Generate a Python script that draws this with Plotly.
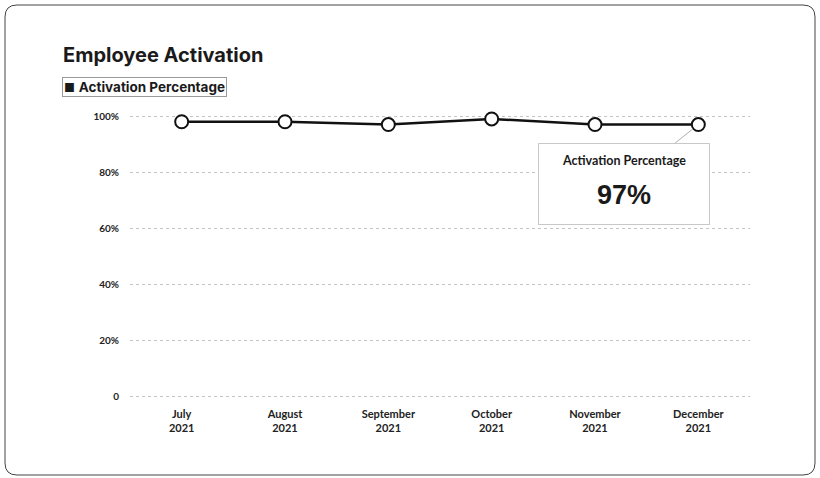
import plotly.graph_objects as go

# Monthly activation share (percent of employees)
months = ["July<br>2021", "August<br>2021", "September<br>2021",
          "October<br>2021", "November<br>2021", "December<br>2021"]
activation = [98, 98, 97, 99, 97, 97]
series_name = "Activation Percentage"
y_ticks = [0, 20, 40, 60, 80, 100]
y_tick_text = ["0", "20%", "40%", "60%", "80%", "100%"]

W, H = 820, 478
ML, MR, MT, MB = 130, 70, 115, 80
PW, PH = W - ML - MR, H - MT - MB


def px(x):
    return (x - ML) / PW


def py(y):
    return (H - MB - y) / PH


def rounded_rect(x0, y0, x1, y1, r):
    """SVG path of a rounded rectangle given in pixels, expressed in paper units."""
    pts = [
        f"M {px(x0 + r)},{py(y0)}",
        f"L {px(x1 - r)},{py(y0)}",
        f"Q {px(x1)},{py(y0)} {px(x1)},{py(y0 + r)}",
        f"L {px(x1)},{py(y1 - r)}",
        f"Q {px(x1)},{py(y1)} {px(x1 - r)},{py(y1)}",
        f"L {px(x0 + r)},{py(y1)}",
        f"Q {px(x0)},{py(y1)} {px(x0)},{py(y1 - r)}",
        f"L {px(x0)},{py(y0 + r)}",
        f"Q {px(x0)},{py(y0)} {px(x0 + r)},{py(y0)}",
        "Z",
    ]
    return " ".join(pts)


fig = go.Figure()
fig.add_trace(go.Scatter(
    x=months, y=activation, name=series_name, mode="lines+markers",
    line=dict(color="#111111", width=2.5),
    marker=dict(size=13, color="white", line=dict(color="#111111", width=2)),
    cliponaxis=False, showlegend=False,
))

tick_font = dict(family="Lato", size=10, color="#222222", weight="bold")

fig.update_layout(
    width=W, height=H,
    margin=dict(l=ML, r=MR, t=MT, b=MB),
    paper_bgcolor="white", plot_bgcolor="white",
    showlegend=False,
    xaxis=dict(
        type="category", range=[-0.5, len(months) - 0.5],
        showgrid=False, zeroline=False, showline=False,
        tickfont=dict(tick_font, size=11), ticklabelstandoff=8, ticks="",
    ),
    yaxis=dict(
        range=[-0.4, 100.4], tickvals=y_ticks, ticktext=y_tick_text,
        showgrid=True, gridcolor="#c4c4c4", griddash="dot", gridwidth=1,
        zeroline=False, showline=False,
        tickfont=tick_font, ticklabelstandoff=10, ticks="",
    ),
    shapes=[
        dict(type="path", xref="paper", yref="paper",
             path=rounded_rect(5, 5, 815, 475, 12),
             line=dict(color="#444444", width=1), fillcolor="rgba(0,0,0,0)",
             layer="below"),
    ],
)

# Title
fig.add_annotation(
    text="<b>Employee Activation</b>", xref="paper", yref="paper",
    x=px(61), y=py(55), xanchor="left", yanchor="middle", showarrow=False,
    font=dict(family="Inter", size=20, color="#1a1a1a"),
)

# Legend chip
fig.add_annotation(
    text=f"<span style='font-size:12px'>■</span> <b>{series_name}</b>",
    xref="paper", yref="paper",
    x=px(62), y=py(87), xanchor="left", yanchor="middle", showarrow=False,
    font=dict(family="Inter", size=13.5, color="#1a1a1a"),
    bordercolor="#9a9a9a", borderwidth=1, borderpad=1, bgcolor="white",
)

# Tooltip card for the latest month: frame with pointer, then its two text lines
last_x, last_y = months[-1], activation[-1]
fig.add_annotation(
    x=last_x, y=last_y, xref="x", yref="y", text=" ",
    showarrow=True, arrowhead=0, arrowwidth=1, arrowcolor="#b0b0b0",
    ax=-74, ay=59, standoff=7,
    width=168, height=78, bordercolor="#c8c8c8", borderwidth=1, bgcolor="white",
)
fig.add_annotation(
    x=last_x, y=last_y, xref="x", yref="y", text=f"<b>{series_name}</b>",
    showarrow=False, xshift=-74, yshift=-36,
    font=dict(family="Lato", size=12.5, color="#1a1a1a"),
)
fig.add_annotation(
    x=last_x, y=last_y, xref="x", yref="y", text=f"<b>{last_y}%</b>",
    showarrow=False, xshift=-74, yshift=-70,
    font=dict(family="Liberation Sans", size=27, color="#1a1a1a"),
)

fig.write_html("out.html")
